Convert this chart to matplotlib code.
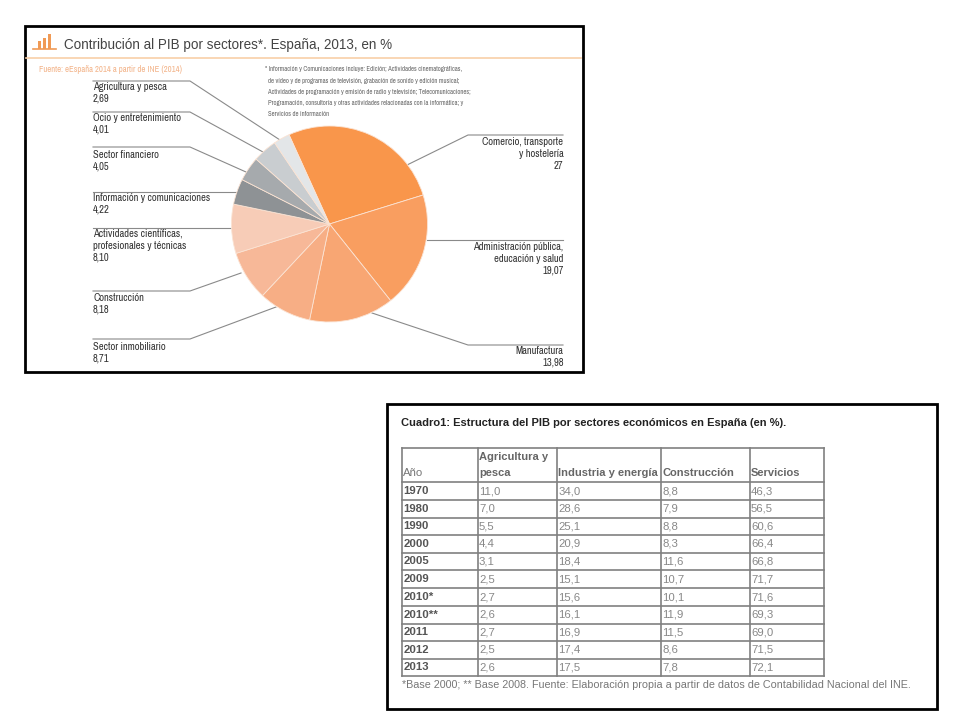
import matplotlib
matplotlib.use("Agg")
import matplotlib.pyplot as plt
from matplotlib.patches import Rectangle

# pie data
sectores = ["Comercio", "Administración", "Manufactura", "Inmobiliario", "Construcción",
            "Actividades", "Información", "Financiero", "Ocio", "Agricultura"]
valores = [27, 19.07, 13.98, 8.71, 8.18, 8.10, 4.22, 4.05, 4.01, 2.69]
colores = ["#F9964B", "#F99E60", "#F8A673", "#F7AE85", "#F7B898", "#F7CCB7",
           "#8E9295", "#A6AAAD", "#C9CDD0", "#E3E6E8"]

titulo = "Contribución al PIB por sectores*. España, 2013, en %"
fuente = "Fuente: eEspaña 2014 a partir de INE (2014)"
nota = ["* Información y Comunicaciones incluye: Edición; Actividades cinematográficas,",
        "de vídeo y de programas de televisión, grabación de sonido y edición musical;",
        "Actividades de programación y emisión de radio y televisión; Telecomunicaciones;",
        "Programación, consultoría y otras actividades relacionadas con la informática; y",
        "Servicios de información"]

# table data
titulo_tabla = "Cuadro1: Estructura del PIB por sectores económicos en España (en %)."
pie_tabla = "*Base 2000; ** Base 2008. Fuente: Elaboración propia a partir de datos de Contabilidad Nacional del INE."
columnas = ["Año", "Agricultura y\npesca", "Industria y energía", "Construcción", "Servicios"]
anios = ["1970", "1980", "1990", "2000", "2005", "2009", "2010*", "2010**", "2011", "2012", "2013"]
agricultura = ["11,0", "7,0", "5,5", "4,4", "3,1", "2,5", "2,7", "2,6", "2,7", "2,5", "2,6"]
industria = ["34,0", "28,6", "25,1", "20,9", "18,4", "15,1", "15,6", "16,1", "16,9", "17,4", "17,5"]
construccion = ["8,8", "7,9", "8,8", "8,3", "11,6", "10,7", "10,1", "11,9", "11,5", "8,6", "7,8"]
servicios = ["46,3", "56,5", "60,6", "66,4", "66,8", "71,7", "71,6", "69,3", "69,0", "71,5", "72,1"]

estrecha = ["Archivo Narrow", "Roboto Condensed", "Liberation Sans"]
normal = "Liberation Sans"

fig = plt.figure(figsize=(9.6, 7.2), dpi=100)
ax = fig.add_axes([0, 0, 1, 1])
ax.set_xlim(0, 960)
ax.set_ylim(720, 0)
ax.axis("off")

# frames
ax.add_patch(Rectangle((25, 25.5), 557.5, 346, fill=False, ec="black", lw=2.0))
ax.add_patch(Rectangle((387, 404), 549.5, 305, fill=False, ec="black", lw=2.0))

# header of the chart
for x, y0 in zip([37.5, 42.5, 47.5], [41, 37.5, 34]):
    ax.add_patch(Rectangle((x, y0), 3.6, 49 - y0, fc="#F09A55", ec="none"))
ax.plot([33, 56], [49.3, 49.3], color="#F09A55", lw=1.2)
ax.plot([26, 581], [57.5, 57.5], color="#F8CFA8", lw=1.2)
ax.text(64, 44.5, titulo, fontsize=9.75, color="#444444", va="center", family=normal)
ax.text(39, 69, fuente, fontsize=6.25, color="#F3B48A", va="center", family=estrecha)

nota_x = [265, 268, 268, 268, 268]
nota_y = [69, 80.5, 92, 103, 114]
for x, y, linea in zip(nota_x, nota_y, nota):
    ax.text(x, y, linea, fontsize=4.85, color="#666666", va="center", family=estrecha)

# pie
ax_pie = fig.add_axes([(329.5 - 98) / 960, 1 - (224 + 98) / 720, 196 / 960, 196 / 720])
ax_pie.pie(valores, colors=colores, startangle=114.4, counterclock=False, radius=1,
           wedgeprops=dict(edgecolor="#FBE3D3", linewidth=0.6, clip_on=False))
ax_pie.set_xlim(-1, 1)
ax_pie.set_ylim(-1, 1)

# leader lines
lineas = [
    ([93, 190, 280], [81, 81, 140]),
    ([93, 190, 263], [112, 112, 152]),
    ([93, 190, 246], [147, 147, 172]),
    ([93, 236], [192, 192]),
    ([93, 232], [228, 228]),
    ([93, 190, 241], [291, 291, 273]),
    ([93, 190, 276], [339, 339, 307]),
    ([563, 468, 407], [135, 135, 165]),
    ([563, 427], [240, 240]),
    ([563, 468, 372], [345, 345, 313]),
]
for xs, ys in lineas:
    ax.plot(xs, ys, color="#8A8A8A", lw=0.8)

# labels of the pie
izquierda = [
    (87, "Agricultura y pesca\n2,69"),
    (118, "Ocio y entretenimiento\n4,01"),
    (155, "Sector financiero\n4,05"),
    (198, "Información y comunicaciones\n4,22"),
    (234, "Actividades científicas,\nprofesionales y técnicas\n8,10"),
    (298, "Construcción\n8,18"),
    (347, "Sector inmobiliario\n8,71"),
]
derecha = [
    (142, "Comercio, transporte\ny hostelería\n27"),
    (247, "Administración pública,\neducación y salud\n19,07"),
    (351, "Manufactura\n13,98"),
]
for y, txt in izquierda:
    for i, parte in enumerate(txt.split("\n")):
        ax.text(93, y + i * 11.8, parte, fontsize=7.6, color="#333333", va="center", family=estrecha)
for y, txt in derecha:
    for i, parte in enumerate(txt.split("\n")):
        ax.text(563.5, y + i * 11.8, parte, fontsize=7.6, color="#333333", va="center", ha="right",
                family=estrecha)

# table
ax.text(401, 423, titulo_tabla, fontsize=8.0, fontweight="bold", color="#222222", va="center", family=normal)
col_x = [402, 477.5, 557, 661, 749.5, 823.5]
fila_y = [448, 482, 500, 517.5, 535, 552.5, 570, 588, 606, 623.5, 641, 659, 676]
for x in col_x:
    ax.plot([x, x], [fila_y[0], fila_y[-1]], color="#808080", lw=1.2)
for y in fila_y:
    ax.plot([col_x[0], col_x[-1]], [y, y], color="#808080", lw=1.2)

ax.text(col_x[0] + 1, 473, columnas[0], fontsize=8.2, color="#777777", va="center", family=normal)
ax.text(col_x[1] + 1.5, 457.5, "Agricultura y", fontsize=8.0, fontweight="bold", color="#666666",
        va="center", family=normal)
ax.text(col_x[1] + 1.5, 473, "pesca", fontsize=8.0, fontweight="bold", color="#666666",
        va="center", family=normal)
for j in [2, 3, 4]:
    ax.text(col_x[j] + 1.5, 473, columnas[j], fontsize=8.0, fontweight="bold", color="#666666",
            va="center", family=normal)

series = [anios, agricultura, industria, construccion, servicios]
for j, serie in enumerate(series):
    for i, valor in enumerate(serie):
        y = (fila_y[i + 1] + fila_y[i + 2]) / 2
        if j == 0:
            ax.text(col_x[j] + 1.5, y, valor, fontsize=8.2, fontweight="bold", color="#555555",
                    va="center", family=normal)
        else:
            ax.text(col_x[j] + 1.5, y, valor, fontsize=8.2, color="#888888", va="center", family=normal)

ax.text(401.5, 685.5, pie_tabla, fontsize=7.75, color="#777777", va="center", family=normal)

fig.savefig("out.png", dpi=100)
